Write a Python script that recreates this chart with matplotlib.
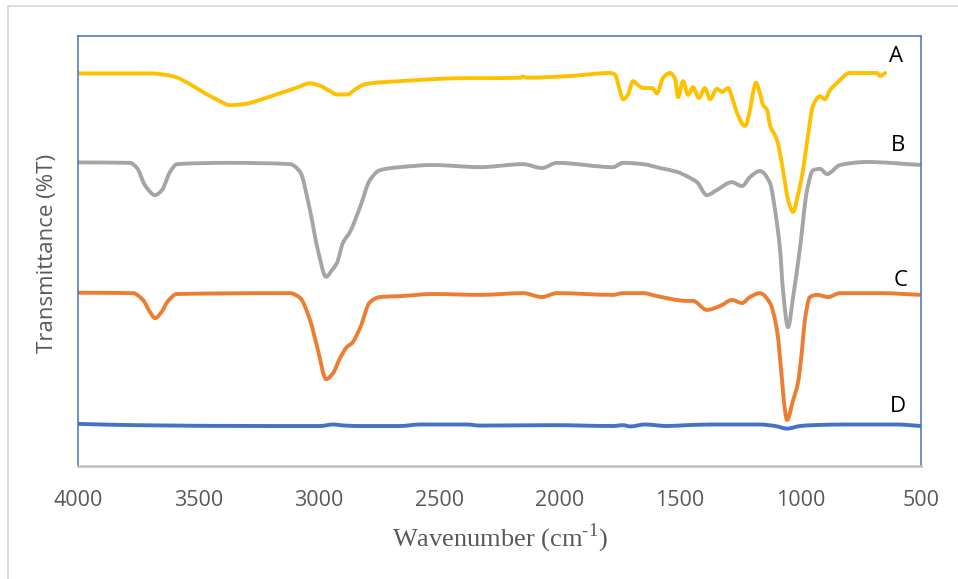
import matplotlib
matplotlib.use("Agg")
import matplotlib.pyplot as plt
from matplotlib.patches import Rectangle, PathPatch
from matplotlib.path import Path

# ---- data (wavenumber cm-1, transmittance arbitrary offset units) ----
wn_A = [4000, 3867, 3701, 3639, 3597, 3535, 3473, 3419, 3369, 3307, 3236, 3161, 3091, 3037,
        2995, 2954, 2925, 2883, 2846, 2808, 2663, 2385, 2331, 2165, 2152, 2136, 1957, 1791,
        1770, 1754, 1737, 1717, 1696, 1675, 1654, 1617, 1596, 1571, 1542, 1521, 1509, 1488,
        1467, 1447, 1422, 1397, 1376, 1347, 1326, 1301, 1281, 1264, 1231, 1210, 1198, 1185,
        1169, 1156, 1139, 1127, 1098, 1073, 1052, 1031, 1011, 990, 969, 948, 919, 899, 878,
        845, 795, 683, 670, 649]
t_A = [91.3, 91.3, 91.3, 91.0, 90.5, 88.8, 86.7, 85.1, 83.9, 84.2, 85.3, 86.7, 88.0, 89.0,
       88.4, 87.2, 86.4, 86.4, 87.7, 88.8, 89.5, 90.2, 90.2, 90.3, 90.6, 90.3, 90.7, 91.4,
       91.0, 88.1, 85.3, 86.3, 89.5, 88.6, 87.9, 87.9, 86.7, 90.3, 91.4, 90.0, 85.8, 89.5,
       86.3, 88.1, 85.6, 87.9, 85.3, 87.7, 87.0, 87.9, 85.1, 82.1, 79.1, 82.8, 86.7, 89.1,
       86.7, 84.0, 82.8, 79.3, 75.8, 68.8, 61.9, 59.1, 63.0, 68.8, 77.0, 83.9, 86.0, 85.3, 87.4,
       89.3, 91.4, 91.4, 90.7, 91.4]

wn_B = [4000, 3784, 3755, 3722, 3680, 3651, 3618, 3589, 3369, 3120, 3078, 3037, 3004, 2970,
        2945, 2925, 2900, 2871, 2829, 2788, 2746, 2663, 2526, 2331, 2152, 2074, 2011, 1779,
        1737, 1654, 1584, 1513, 1459, 1430, 1389, 1347, 1285, 1243, 1210, 1169, 1127, 1106,
        1085, 1073, 1052, 1031, 1002, 973, 948, 919, 890, 836, 724, 500]
t_B = [70.6, 70.5, 69.3, 65.3, 63.0, 64.2, 68.4, 70.2, 70.5, 70.2, 68.4, 59.5, 50.2, 44.0,
       45.6, 47.2, 51.9, 54.4, 60.2, 66.5, 68.8, 69.5, 70.0, 69.5, 70.2, 69.3, 70.5, 69.5,
       70.5, 70.2, 69.3, 68.4, 67.0, 66.0, 63.0, 64.2, 66.0, 65.1, 67.2, 68.6, 65.8, 59.5,
       50.2, 40.9, 32.3, 39.3, 50.9, 64.2, 68.8, 69.1, 67.9, 70.0, 70.7, 70.0]

wn_C = [4000, 3772, 3730, 3701, 3680, 3651, 3630, 3589, 3120, 3078, 3037, 3004, 2970, 2941,
        2912, 2883, 2862, 2829, 2788, 2746, 2663, 2526, 2331, 2152, 2074, 2011, 1779, 1737,
        1654, 1596, 1472, 1447, 1389, 1335, 1285, 1243, 1210, 1169, 1127, 1098, 1077, 1065,
        1056, 1031, 1011, 994, 982, 961, 932, 886, 836, 670, 500]
t_C = [40.3, 40.2, 38.6, 35.8, 34.4, 36.0, 38.1, 40.0, 40.2, 39.1, 34.0, 27.0, 20.2, 21.6,
       25.1, 27.7, 28.6, 32.1, 38.1, 39.3, 39.5, 40.0, 39.8, 40.2, 39.3, 40.2, 39.8, 40.2,
       40.2, 39.5, 38.4, 38.4, 36.3, 37.2, 38.6, 37.9, 39.3, 40.2, 37.9, 31.6, 20.0, 13.0,
       10.7, 15.3, 19.3, 27.0, 34.0, 39.3, 39.8, 39.3, 40.2, 40.2, 39.8]

wn_D = [4000, 3772, 3215, 2995, 2941, 2891, 2829, 2663, 2580, 2385, 2331, 2028, 1779, 1737,
        1708, 1646, 1555, 1472, 1364, 1169, 1106, 1056, 1002, 948, 807, 600, 500]
t_D = [9.8, 9.5, 9.3, 9.3, 9.65, 9.4, 9.3, 9.3, 9.65, 9.65, 9.4, 9.5, 9.3, 9.5,
       9.2, 9.65, 9.3, 9.5, 9.65, 9.65, 9.3, 8.7, 9.3, 9.5, 9.65, 9.65, 9.3]

series_names = ["A", "B", "C", "D"]
x_ticks = [4000, 3500, 3000, 2500, 2000, 1500, 1000, 500]

colors = {"A": "#FFC000", "B": "#A5A5A5", "C": "#ED7D31", "D": "#4472C4"}


def smooth_path(xs, ys):
    """Smoothed line through the points: cubic Bezier segments with
    monotone (PCHIP-style) tangents, so no loops or overshoot."""
    n = len(xs)
    h = [xs[i + 1] - xs[i] for i in range(n - 1)]
    d = [(ys[i + 1] - ys[i]) / h[i] for i in range(n - 1)]
    m = [0.0] * n
    m[0], m[-1] = d[0], d[-1]
    for i in range(1, n - 1):
        if d[i - 1] * d[i] <= 0:
            m[i] = 0.0
        else:
            w1 = 2 * h[i] + h[i - 1]
            w2 = h[i] + 2 * h[i - 1]
            m[i] = (w1 + w2) / (w1 / d[i - 1] + w2 / d[i])
    verts = [(xs[0], ys[0])]
    codes = [Path.MOVETO]
    for i in range(n - 1):
        dx = h[i] / 3.0
        verts += [(xs[i] + dx, ys[i] + m[i] * dx),
                  (xs[i + 1] - dx, ys[i + 1] - m[i + 1] * dx),
                  (xs[i + 1], ys[i + 1])]
        codes += [Path.CURVE4] * 3
    return Path(verts, codes)


W, H = 958, 579
fig = plt.figure(figsize=(W / 100, H / 100), dpi=100)

# outer chart border
fig.add_artist(Rectangle((8 / W, -0.05), 1.2, 1.05 - 6 / H, transform=fig.transFigure,
                         fill=False, edgecolor="#D9D9D9", linewidth=1.3))

ax = fig.add_axes([78 / W, 1 - 466 / H, (921 - 78) / W, (466 - 36) / H])

data = [(wn_A, t_A), (wn_B, t_B), (wn_C, t_C), (wn_D, t_D)]
for name, (wn, t) in zip(series_names, data):
    patch = PathPatch(smooth_path(wn, t), facecolor="none", edgecolor=colors[name],
                      lw=2.8, joinstyle="round", capstyle="round", transform=ax.transData)
    ax.add_patch(patch)

ax.set_xlim(4000, 500)
ax.set_ylim(0, 100)
ax.set_xticks(x_ticks)
ax.set_xticklabels([str(v) for v in x_ticks], fontfamily="Open Sans", fontsize=15.5,
                   color="#595959")
ax.set_yticks([])
ax.tick_params(axis="x", length=0, pad=17)

for s in ["left", "top", "right"]:
    ax.spines[s].set_color("#4472C4")
    ax.spines[s].set_linewidth(1.1)
ax.spines["bottom"].set_color("#BFBFBF")
ax.spines["bottom"].set_linewidth(1.8)

# axis titles
fig.text(48 / W, 1 - 253 / H, "Transmittance (%T)", rotation=90, ha="center", va="center",
         fontfamily="Open Sans", fontsize=16, color="#595959")
plt.rcParams["mathtext.fontset"] = "custom"
plt.rcParams["mathtext.rm"] = "Liberation Serif"
fig.text(500 / W, 1 - 538 / H, r"Wavenumber (cm$^{\text{-1}}$)", ha="center",
         va="center", fontfamily="Liberation Serif", fontsize=19, color="#595959")

# series labels
label_pos = {"A": (896, 57), "B": (898, 145), "C": (901, 281), "D": (898, 407)}
for name in series_names:
    px, py = label_pos[name]
    fig.text(px / W, 1 - py / H, name, ha="center", va="center", fontfamily="Open Sans",
             fontsize=16, color="black")

fig.savefig("out.png", dpi=100)
